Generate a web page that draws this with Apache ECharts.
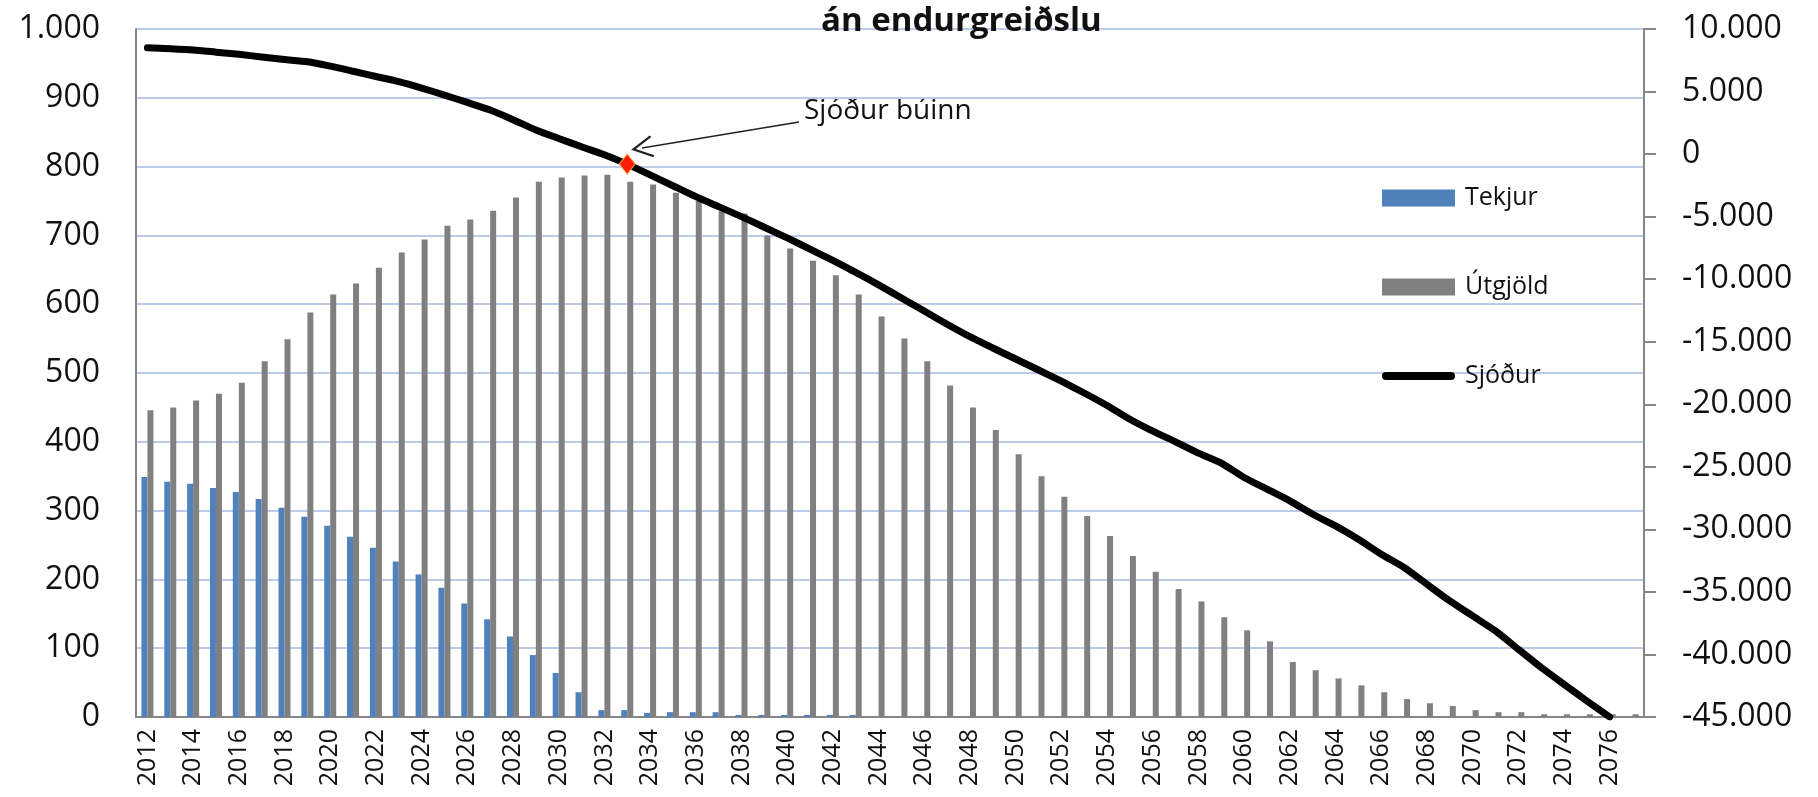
<!DOCTYPE html>
<html lang="is">

<head>
    <meta charset="UTF-8">
    <script src="https://cdn.jsdelivr.net/npm/echarts@6/dist/echarts.min.js"></script>
    <title>Sjóður án endurgreiðslu</title>
</head>

<body style="margin:0">
    <div id="main" style="width:1818px;height:797px;"></div>

    <script>
        // years 2012..2077
        var years = [];
        for (var y = 2012; y <= 2077; y++) years.push(String(y));

        var tekjur = [349, 342, 339, 333, 327, 317, 304, 291, 278, 262,
            246, 226, 207, 188, 165, 142, 117, 90, 64, 36,
            10, 10, 6, 7, 7, 7, 3, 3, 3, 3,
            3, 3, 0, 0, 0, 0, 0, 0, 0, 0,
            0, 0, 0, 0, 0, 0, 0, 0, 0, 0,
            0, 0, 0, 0, 0, 0, 0, 0, 0, 0,
            0, 0, 0, 0, 0, 0];

        var utgjold = [446, 450, 460, 470, 486, 517, 549, 588, 614, 630,
            653, 675, 694, 714, 723, 736, 755, 778, 784, 787,
            788, 778, 774, 762, 750, 735, 732, 700, 681, 663,
            642, 614, 582, 550, 517, 482, 450, 417, 382, 350,
            320, 292, 263, 234, 211, 186, 168, 145, 126, 110,
            80, 68, 56, 46, 36, 26, 20, 16, 10, 7,
            7, 4, 4, 4, 4, 4];

        var sjodur = [8500, 8420, 8320, 8150, 7980, 7760, 7560, 7380, 7030, 6620,
            6200, 5790, 5280, 4720, 4130, 3520, 2750, 1930, 1250, 590,
            -50, -800, -1660, -2530, -3400, -4200, -5000, -5850, -6700, -7600,
            -8500, -9450, -10450, -11500, -12550, -13600, -14600, -15500, -16380, -17260,
            -18150, -19100, -20100, -21200, -22150, -23000, -23900, -24700, -25850, -26790,
            -27720, -28790, -29720, -30790, -31990, -33050, -34390, -35720, -36920, -38120,
            -39590, -41050, -42390, -43720, -45000, null];

        // point where the fund runs out
        var buinnYear = '2033';
        var buinnValue = sjodur[years.indexOf(buinnYear)];

        var FONT = 'Open Sans';

        function dotThousands(v) {
            var s = String(Math.abs(v)).replace(/\B(?=(\d{3})+(?!\d))/g, '.');
            return (v < 0 ? '-' : '') + s;
        }

        var chart = echarts.init(document.getElementById('main'));

        var option = {
            animation: false,
            backgroundColor: '#fff',
            title: {
                text: 'án endurgreiðslu',
                left: 816,
                top: 0,
                textStyle: { fontFamily: FONT, fontSize: 33, fontWeight: 'bold', color: '#111' }
            },
            legend: {
                orient: 'vertical',
                left: 1377,
                top: 178,
                itemWidth: 73,
                itemHeight: 17,
                itemGap: 59,
                textStyle: { fontFamily: FONT, fontSize: 25, color: '#111', lineHeight: 30, padding: [0, 0, 0, 5] },
                data: [
                    { name: 'Tekjur', icon: 'rect' },
                    { name: 'Útgjöld', icon: 'rect' },
                    // thick line with round ends, like the series
                    { name: 'Sjóður', icon: 'path://M4,0 H69 A4,4 0 0 1 69,8 H4 A4,4 0 0 1 4,0 Z' }
                ]
            },
            grid: { left: 136, right: 174, top: 29, bottom: 80 },
            xAxis: {
                type: 'category',
                data: years,
                axisLine: { lineStyle: { color: '#868686', width: 2 } },
                axisTick: { show: false },
                axisLabel: {
                    interval: 1,
                    rotate: 90,
                    margin: 12,
                    fontFamily: FONT,
                    fontSize: 25,
                    color: '#111'
                }
            },
            yAxis: [
                {
                    type: 'value',
                    min: 0,
                    max: 1000,
                    interval: 100,
                    axisLine: { show: true, lineStyle: { color: '#868686', width: 2 } },
                    axisTick: { show: false },
                    axisLabel: {
                        margin: 36,
                        fontFamily: FONT,
                        fontSize: 32,
                        color: '#111',
                        formatter: dotThousands
                    },
                    splitLine: { lineStyle: { color: '#bccbeb', width: 2 } }
                },
                {
                    type: 'value',
                    min: -45000,
                    max: 10000,
                    interval: 5000,
                    axisLine: { show: true, lineStyle: { color: '#868686', width: 2 } },
                    axisTick: { show: true, length: 12, lineStyle: { color: '#868686', width: 2 } },
                    axisLabel: {
                        margin: 38,
                        fontFamily: FONT,
                        fontSize: 32,
                        color: '#111',
                        formatter: dotThousands
                    },
                    splitLine: { show: false }
                }
            ],
            graphic: [
                {
                    type: 'text',
                    left: 804,
                    top: 97,
                    style: { text: 'Sjóður búinn', font: '28px "Open Sans"', fill: '#111' }
                }
            ],
            series: [
                {
                    name: 'Tekjur',
                    type: 'bar',
                    data: tekjur,
                    barWidth: 6,
                    barGap: '0%',
                    itemStyle: { color: '#4f81bd' }
                },
                {
                    name: 'Útgjöld',
                    type: 'bar',
                    data: utgjold,
                    barWidth: 6,
                    barGap: '0%',
                    itemStyle: { color: '#808080' }
                },
                {
                    name: 'Sjóður',
                    type: 'line',
                    yAxisIndex: 1,
                    data: sjodur,
                    symbol: 'none',
                    smooth: 0.2,
                    z: 5,
                    lineStyle: { color: '#000', width: 7, cap: 'round', join: 'round' },
                    itemStyle: { color: '#000' },
                    markPoint: {
                        silent: true,
                        z: 20,
                        symbol: 'diamond',
                        symbolSize: [16, 20],
                        itemStyle: { color: '#ff1a0a', borderColor: '#e0b040', borderWidth: 1 },
                        label: { show: false },
                        data: [{ coord: [buinnYear, buinnValue] }]
                    },
                    markLine: {
                        silent: true,
                        symbol: ['none', 'path://M50,0 L100,88 L92,94 L50,20 L8,94 L0,88 Z'],
                        symbolSize: [22, 22],
                        label: { show: false },
                        lineStyle: { color: '#222', width: 1.5, type: 'solid' },
                        data: [[{ x: 799, y: 122 }, { x: 642, y: 148 }]]
                    }
                }
            ]
        };

        chart.setOption(option);
    </script>
</body>

</html>
